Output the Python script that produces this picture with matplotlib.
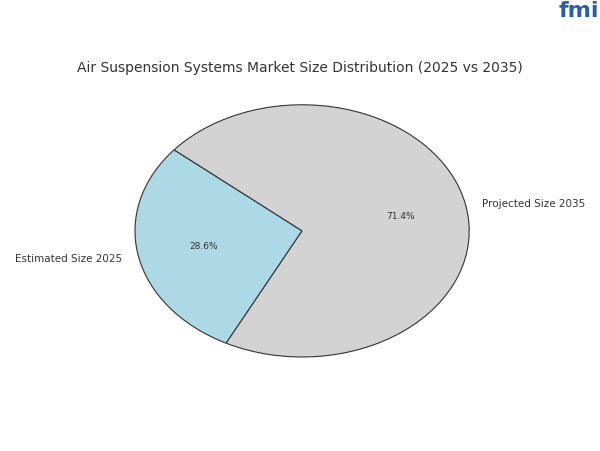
import matplotlib
matplotlib.use("Agg")
import matplotlib.pyplot as plt

labels = ["Estimated Size 2025", "Projected Size 2035"]
values = [28.6, 71.4]
colors = ["#add8e6", "#d3d3d3"]

fig = plt.figure(figsize=(6, 4.52), dpi=100)
ax = fig.add_axes([0.225, 0.208, 0.557, 0.558])
ax.pie(values, labels=labels, colors=colors, autopct="%1.1f%%", startangle=140,
       wedgeprops=dict(edgecolor="#333333", linewidth=0.8),
       textprops=dict(fontsize=7.5, color="#333333"), labeldistance=1.1)
for t in ax.texts:
    if "%" in t.get_text():
        t.set_fontsize(6.5)
ax.set_aspect("auto")
ax.set_xlim(-1, 1)
ax.set_ylim(-1, 1)
ax.axis("off")
fig.text(0.5, 0.849, "Air Suspension Systems Market Size Distribution (2025 vs 2035)",
         ha="center", va="center", fontsize=10, color="#333333")
fig.text(0.965, 0.975, "fmi", ha="center", va="center", fontsize=16,
         color="#2a5da8", fontweight="bold")
fig.savefig("out.png", dpi=100)
